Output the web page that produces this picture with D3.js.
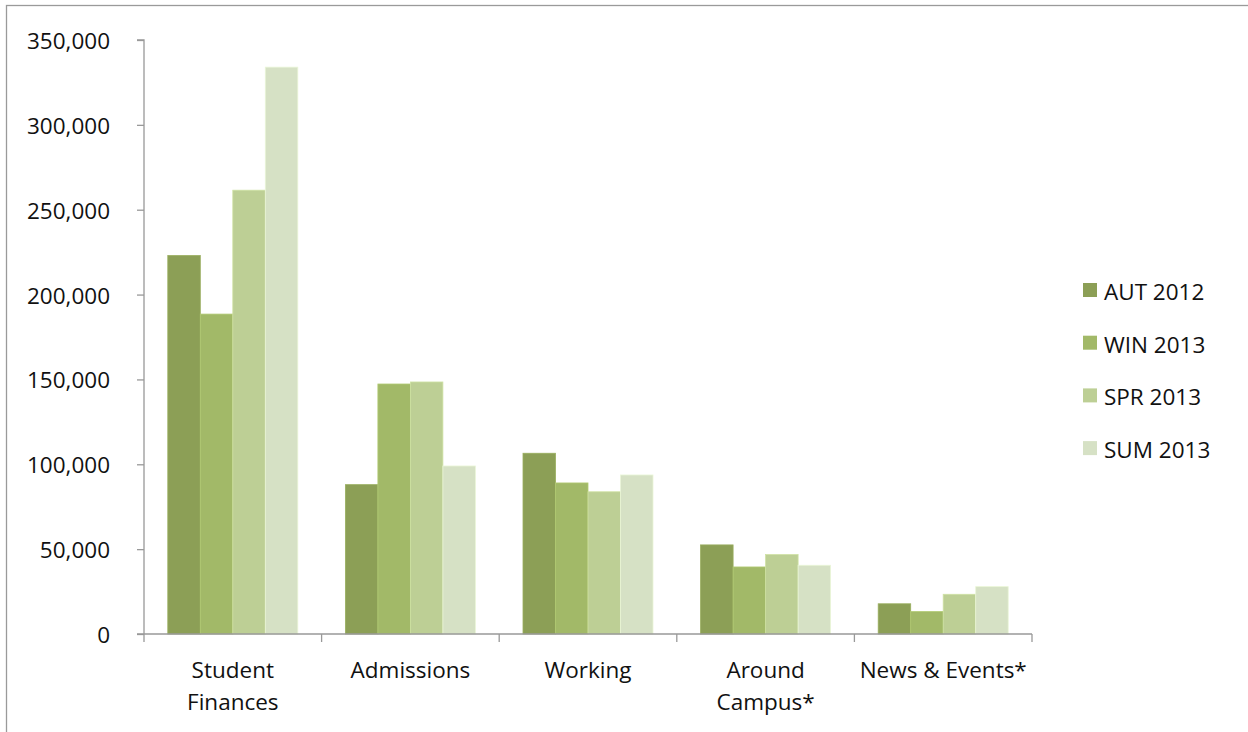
<!DOCTYPE html>
<html>
<head>
<meta charset="utf-8">
<script src="https://cdn.jsdelivr.net/npm/d3@7"></script>
<style>
  html, body { margin: 0; padding: 0; background: #fff; }
  svg { display: block; }
  text { font-family: "Open Sans", Lato, sans-serif; fill: #111; }
</style>
</head>
<body>
<svg id="chart" width="1248" height="732"></svg>
<script>
const categories = [["Student", "Finances"], ["Admissions"], ["Working"], ["Around", "Campus*"], ["News & Events*"]];
const seriesNames = ["AUT 2012", "WIN 2013", "SPR 2013", "SUM 2013"];
const colors = ["#8c9f56", "#a2b968", "#bdcf95", "#d6e1c5"];
const aut2012 = [223000, 88000, 106500, 52500, 17800];
const win2013 = [188500, 147300, 89000, 39500, 13200];
const spr2013 = [261500, 148500, 83800, 46800, 23400];
const sum2013 = [334000, 99000, 93700, 40500, 27900];
const yTicks = [0, 50000, 100000, 150000, 200000, 250000, 300000, 350000];

const seriesValues = [aut2012, win2013, spr2013, sum2013];
const svg = d3.select("#chart");
const FONT = "22.5px";

// outer border
svg.append("rect").attr("x", 6.5).attr("y", 5.5).attr("width", 1260).attr("height", 760)
  .attr("fill", "none").attr("stroke", "#9a9a9a").attr("stroke-width", 1.3);

const m = { left: 144, right: 1032, top: 40, bottom: 634 };
const y = d3.scaleLinear().domain([0, 350000]).range([m.bottom, m.top]);
const x0 = d3.scaleBand().domain(d3.range(categories.length)).range([m.left, m.right]).paddingInner(0).paddingOuter(0);
const bw = x0.bandwidth() * 130 / 177.6;
const x1 = d3.scaleBand().domain(d3.range(seriesNames.length)).range([0, bw]).padding(0);
const offset = (x0.bandwidth() - bw) / 2;

// bars
const g = svg.append("g");
categories.forEach((c, ci) => {
  seriesValues.forEach((vals, si) => {
    g.append("rect")
      .attr("x", x0(ci) + offset + x1(si))
      .attr("y", y(vals[ci]))
      .attr("width", x1.bandwidth())
      .attr("height", y(0) - y(vals[ci]))
      .attr("fill", colors[si])
      .attr("stroke", d3.color(colors[si]).brighter(0.25))
      .attr("stroke-width", 0.8);
  });
});

// y axis
const yAxis = d3.axisLeft(y).tickValues(yTicks).tickSize(7).tickFormat(d3.format(","));
const ya = svg.append("g").attr("transform", `translate(${m.left},0)`).call(yAxis);
ya.select(".domain").attr("stroke", "#999").attr("stroke-width", 1.3).attr("d", `M-7,${m.top}H0V${m.bottom}`);
ya.selectAll(".tick line").attr("stroke", "#999").attr("stroke-width", 1.3);
ya.selectAll(".tick text").attr("x", -34).attr("dy", "0.38em").style("font-size", FONT).style("fill", "#111")
  .attr("font-family", "'Open Sans', sans-serif");

// x axis
const xa = svg.append("g").attr("transform", `translate(0,${m.bottom})`);
xa.append("line").attr("x1", m.left - 7).attr("x2", m.right).attr("y1", 0).attr("y2", 0)
  .attr("stroke", "#999").attr("stroke-width", 1.3);
d3.range(categories.length + 1).forEach(i => {
  const xx = m.left + i * x0.bandwidth();
  xa.append("line").attr("x1", xx).attr("x2", xx).attr("y1", 0).attr("y2", 8)
    .attr("stroke", "#999").attr("stroke-width", 1.3);
});
categories.forEach((lines, ci) => {
  const t = xa.append("text").attr("text-anchor", "middle").style("font-size", FONT)
    .attr("transform", `translate(${x0(ci) + x0.bandwidth() / 2},0)`);
  lines.forEach((ln, li) => {
    t.append("tspan").attr("x", 0).attr("y", 44 + li * 32).text(ln);
  });
});

// legend
const lg = svg.append("g");
seriesNames.forEach((s, i) => {
  const base = 300 + i * 52.7;
  lg.append("rect").attr("x", 1083).attr("y", base - 17).attr("width", 14).attr("height", 14).attr("fill", colors[i]);
  lg.append("text").attr("x", 1104).attr("y", base).style("font-size", FONT).text(s);
});
</script>
</body>
</html>
